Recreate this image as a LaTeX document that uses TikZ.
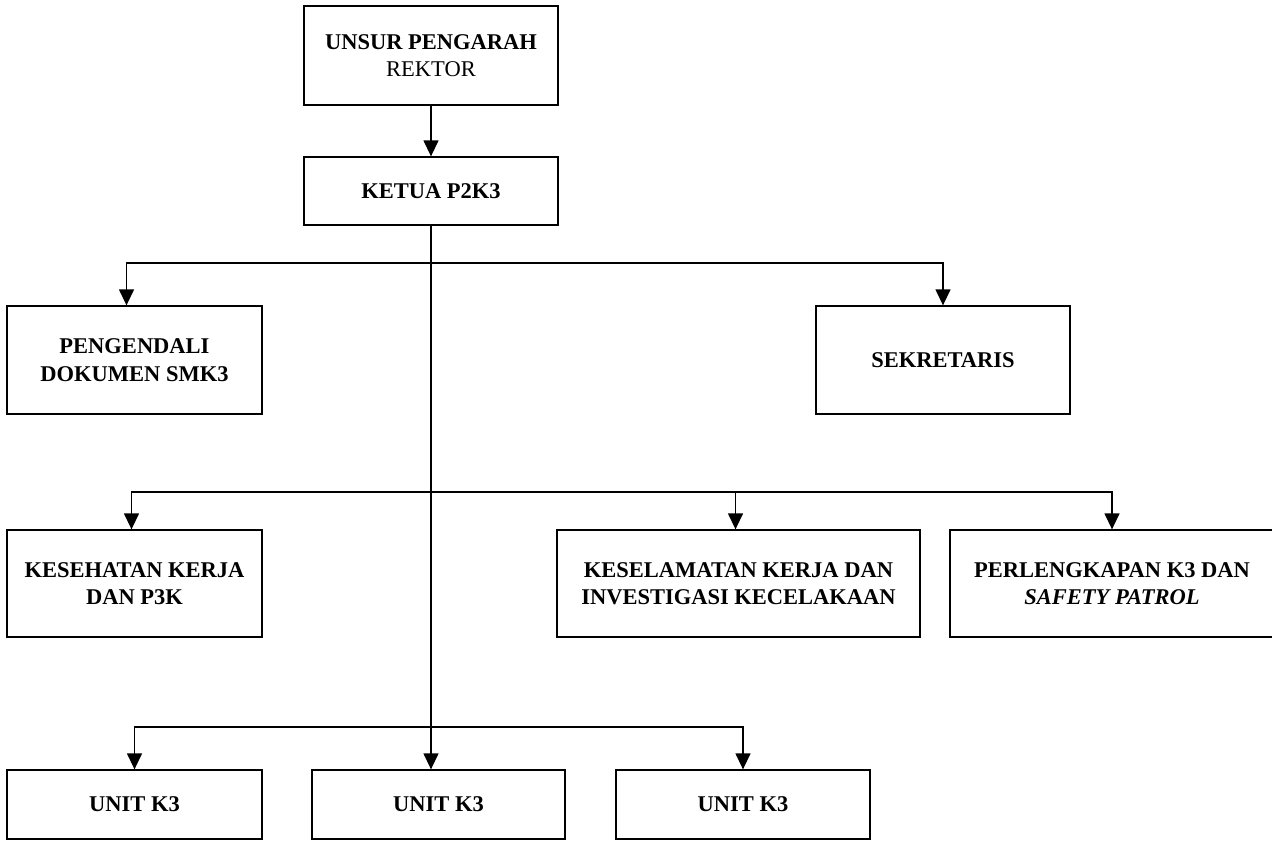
\documentclass[tikz,border=0pt]{standalone}
\usepackage{fontspec}
\setmainfont{Liberation Serif}
\usetikzlibrary{arrows.meta}
\tikzset{
  box/.style={draw, line width=1.3pt, inner sep=0pt, align=center,
    font=\fontsize{22.5}{27.5}\selectfont\bfseries},
  link/.style={line width=1.3pt},
  arr/.style={link, -{Triangle[length=16pt,width=15pt]}}
}
\begin{document}
\begin{tikzpicture}[x=1pt,y=-1pt]
  \useasboundingbox (0,0) rectangle (1272,841);
  % boxes
  \node[box, minimum width=254pt, minimum height=99pt] (pengarah) at (431,55.5)
    {UNSUR PENGARAH\\{\mdseries REKTOR}};
  \node[box, minimum width=254pt, minimum height=68pt] (ketua) at (431,191) {KETUA P2K3};
  \node[box, minimum width=255pt, minimum height=108pt] (dokumen) at (134.5,360)
    {PENGENDALI\\DOKUMEN SMK3};
  \node[box, minimum width=254pt, minimum height=108pt] (sekretaris) at (943,360) {SEKRETARIS};
  \node[box, minimum width=255pt, minimum height=107pt] (kesehatan) at (134.5,583.5)
    {KESEHATAN KERJA\\DAN P3K};
  \node[box, minimum width=363pt, minimum height=107pt] (keselamatan) at (738.5,583.5)
    {KESELAMATAN KERJA DAN\\INVESTIGASI KECELAKAAN};
  \node[box, minimum width=324pt, minimum height=107pt] (perlengkapan) at (1112,583.5)
    {PERLENGKAPAN K3 DAN\\\textit{SAFETY PATROL}};
  \node[box, minimum width=255pt, minimum height=69pt] (unita) at (134.5,804.5) {UNIT K3};
  \node[box, minimum width=253pt, minimum height=69pt] (unitb) at (438.5,804.5) {UNIT K3};
  \node[box, minimum width=254pt, minimum height=69pt] (unitc) at (743,804.5) {UNIT K3};
  % connectors
  \coordinate (j1) at (431,263);
  \coordinate (j2) at (431,492);
  \coordinate (j3) at (431,727);
  \draw[arr] (pengarah) -- (ketua);
  \draw[arr] (ketua.south) -- (ketua.south |- unitb.north);
  \draw[arr] (j1) -| ([xshift=-8pt]dokumen.north);
  \draw[arr] (j1) -| (sekretaris.north);
  \draw[arr] (j2) -| ([xshift=-3pt]kesehatan.north);
  \draw[arr] (j2) -| ([xshift=-3pt]keselamatan.north);
  \draw[arr] (j2) -| (perlengkapan.north);
  \draw[arr] (j3) -| (unita.north);
  \draw[arr] (j3) -| (unitc.north);
\end{tikzpicture}
\end{document}
